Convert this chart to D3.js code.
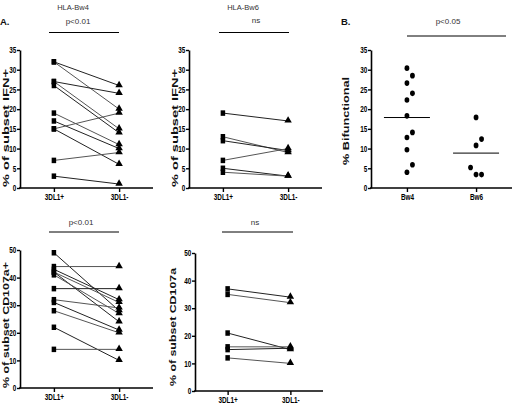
<!DOCTYPE html>
<html><head><meta charset="utf-8">
<script src="https://cdn.jsdelivr.net/npm/d3@7"></script>
<style>body{margin:0;background:#fff}</style>
</head><body>
<svg id="c" width="512" height="405"></svg>
<script>
// ---------- data ----------
const pairCategories = ["3DL1+", "3DL1-"];
const groupCategories = ["Bw4", "Bw6"];
const ifnTicks = [0, 5, 10, 15, 20, 25, 30, 35];
const cdTicks = [0, 10, 20, 30, 40, 50];

const ifnBw4Plus  = [32, 32, 27, 27, 26, 19, 17, 15, 15, 7, 3];
const ifnBw4Minus = [26, 20, 24, 15, 14, 11, 10, 19, 6, 9, 1];
const ifnBw6Plus  = [19, 13, 12, 7, 5, 4];
const ifnBw6Minus = [17, 9, 9.5, 10, 3, 3];
const cdBw4Plus   = [49, 44, 43, 42, 42, 41, 36, 32, 31, 28, 22, 14];
const cdBw4Minus  = [28, 44, 32, 31, 24, 27, 36, 29, 21, 20, 10, 14];
const cdBw6Plus   = [37, 35, 21, 16, 15, 12];
const cdBw6Minus  = [34, 32, 15, 16, 15.5, 10];
const bifBw4 = [30.4, 28.5, 26.6, 24.0, 22.3, 18.3, 14.1, 12.8, 9.7, 5.9, 4.0];
const bifBw6 = [17.9, 12.4, 10.8, 5.2, 3.4, 3.4];

// ---------- drawing ----------
const svg = d3.select("#c");
const labelFont = "'Liberation Sans',Arial,sans-serif";

function styleAxis(g) {
  g.select(".domain").attr("stroke", "#000").attr("stroke-width", 1.6);
  g.selectAll(".tick line").attr("stroke", "#000").attr("stroke-width", 1.4);
  g.selectAll(".tick text").attr("font-family", labelFont).attr("font-weight", "bold")
    .attr("font-size", 8.5).attr("fill", "#000").attr("transform", "scale(0.75,1)");
}

function drawAxes(cfg, x, y, ticks) {
  const ga = svg.append("g").attr("transform", `translate(${cfg.left},0)`)
    .call(d3.axisLeft(y).tickValues(ticks).tickSize(3).tickSizeOuter(0).tickPadding(2));
  styleAxis(ga);
  const gb = svg.append("g").attr("transform", `translate(0,${cfg.bottom})`)
    .call(d3.axisBottom(x).tickSize(4).tickSizeOuter(0).tickPadding(2));
  styleAxis(gb);
  gb.select(".domain").attr("d", `M${cfg.left - 1},0H${cfg.right}`);
  svg.append("text").attr("transform", `translate(${cfg.titleX},${cfg.titleY}) rotate(-90)`)
    .attr("text-anchor", "middle").attr("font-family", labelFont).attr("font-weight", "bold")
    .attr("font-size", 9).attr("textLength", cfg.titleLen).attr("lengthAdjust", "spacingAndGlyphs")
    .attr("fill", "#111").text(cfg.title);
}

function sigBar(txt, cx, ty, x1, x2, ly) {
  svg.append("text").attr("x", cx).attr("y", ty).attr("text-anchor", "middle")
    .attr("font-family", labelFont).attr("font-size", 8).attr("fill", "#333").text(txt);
  svg.append("line").attr("x1", x1).attr("x2", x2).attr("y1", ly).attr("y2", ly)
    .attr("stroke", "#000").attr("stroke-width", 1);
}

const sq = d3.symbol().type(d3.symbolSquare).size(25);
const tri = d3.symbol().type(d3.symbolTriangle).size(24);

function paired(cfg, ticks, plus, minus) {
  const x = d3.scalePoint().domain(pairCategories).range([cfg.left, cfg.right]).padding(0.52);
  const y = d3.scaleLinear().domain([0, ticks[ticks.length - 1]]).range([cfg.bottom, cfg.top]);
  drawAxes(cfg, x, y, ticks);
  const pairs = plus.map((p, i) => [p, minus[i]]);
  const g = svg.append("g");
  g.selectAll("line.pair").data(pairs).join("line").attr("class", "pair")
    .attr("x1", x(pairCategories[0])).attr("x2", x(pairCategories[1]))
    .attr("y1", d => y(d[0])).attr("y2", d => y(d[1]))
    .attr("stroke", (d, i) => i % 2 ? "#555" : "#222").attr("stroke-width", 1);
  g.selectAll("path.sq").data(plus).join("path").attr("class", "sq").attr("d", sq)
    .attr("transform", d => `translate(${x(pairCategories[0])},${y(d)}) scale(0.9,1.1)`).attr("fill", "#000");
  g.selectAll("path.tri").data(minus).join("path").attr("class", "tri").attr("d", tri)
    .attr("transform", d => `translate(${x(pairCategories[1])},${y(d) - 0.5})`).attr("fill", "#000");
}

paired({left: 20, right: 153, top: 50, bottom: 188, titleX: 8.5, titleY: 128, titleLen: 118,
        title: "% of subset IFN+"}, ifnTicks, ifnBw4Plus, ifnBw4Minus);
paired({left: 189, right: 322, top: 50, bottom: 188, titleX: 178, titleY: 128, titleLen: 118,
        title: "% of subset IFN+"}, ifnTicks, ifnBw6Plus, ifnBw6Minus);
paired({left: 20, right: 153, top: 250, bottom: 388, titleX: 8.5, titleY: 325, titleLen: 126,
        title: "% of subset CD107a+"}, cdTicks, cdBw4Plus, cdBw4Minus);
paired({left: 195, right: 323, top: 253, bottom: 391, titleX: 176, titleY: 327, titleLen: 118,
        title: "% of subset CD107a"}, cdTicks, cdBw6Plus, cdBw6Minus);

// Panel B scatter
(function () {
  const cfg = {left: 371, right: 512, top: 50, bottom: 188, titleX: 349, titleY: 121, titleLen: 88,
               title: "% Bifunctional"};
  const x = d3.scalePoint().domain(groupCategories).range([cfg.left, cfg.right]).padding(0.52);
  const y = d3.scaleLinear().domain([0, 35]).range([cfg.bottom, cfg.top]);
  drawAxes(cfg, x, y, ifnTicks);
  const groups = [bifBw4, bifBw6];
  const step = 5.5, thr = 11;
  groups.forEach((vals, gi) => {
    const cx = x(groupCategories[gi]);
    const placed = [];
    const sorted = vals.slice().sort((a, b) => a - b);
    sorted.forEach(v => {
      const py = y(v);
      for (const off of [0, 1, -1, 2, -2]) {
        if (!placed.some(p => p.off === off && Math.abs(p.py - py) < thr)) {
          placed.push({v, py, off});
          break;
        }
      }
    });
    svg.append("g").selectAll("ellipse").data(placed).join("ellipse")
      .attr("cx", d => cx + d.off * step).attr("cy", d => d.py)
      .attr("rx", 2.4).attr("ry", 2.8).attr("fill", "#000");
    const m = d3.mean(vals);
    svg.append("line").attr("x1", cx - 23).attr("x2", cx + 23)
      .attr("y1", y(m)).attr("y2", y(m)).attr("stroke", "#000").attr("stroke-width", 1);
  });
})();

// headers and significance
svg.append("text").attr("x", 73).attr("y", 10).attr("text-anchor", "middle")
  .attr("font-family", labelFont).attr("font-size", 7.5).attr("fill", "#333").text("HLA-Bw4");
svg.append("text").attr("x", 243).attr("y", 10).attr("text-anchor", "middle")
  .attr("font-family", labelFont).attr("font-size", 7.5).attr("fill", "#333").text("HLA-Bw6");
svg.append("text").attr("x", 0).attr("y", 25).attr("font-family", labelFont)
  .attr("font-weight", "bold").attr("font-size", 9.5).attr("fill", "#111").text("A.");
svg.append("text").attr("x", 341).attr("y", 25).attr("font-family", labelFont)
  .attr("font-weight", "bold").attr("font-size", 9.5).attr("fill", "#111").text("B.");

sigBar("p<0.01", 78, 24, 49, 119, 32.5);
sigBar("ns", 256, 23, 219, 289, 32.5);
sigBar("p<0.05", 448, 24, 407, 506, 36);
sigBar("p<0.01", 81, 225, 49, 119, 232);
sigBar("ns", 255, 225, 222, 293, 232);
</script>
</body></html>
